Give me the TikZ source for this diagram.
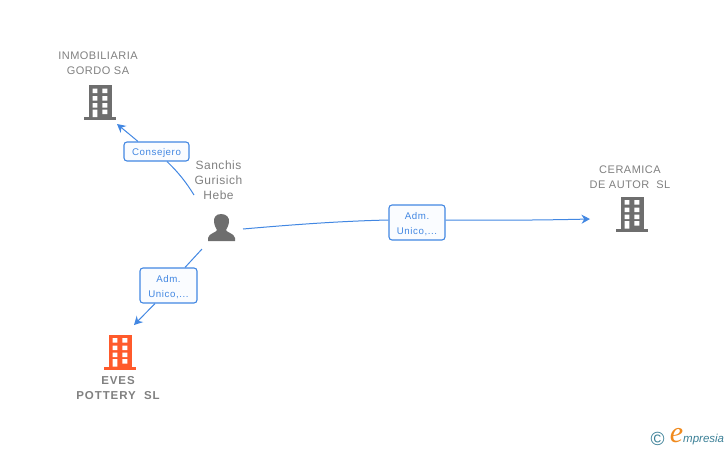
\documentclass[tikz,border=0pt]{standalone}
\usepackage{fontspec}
\setmainfont{Liberation Sans}
\newfontfamily\logofont{Liberation Serif}
\newfontfamily\spacedfont[LetterSpace=4.5]{Liberation Sans}
\newfontfamily\rolefont[LetterSpace=6]{Liberation Sans}
\newfontfamily\boldspaced[LetterSpace=8,BoldFont={Liberation Sans Bold}]{Liberation Sans Bold}
\newfontfamily\logosans{Liberation Sans}
\usetikzlibrary{arrows.meta}
\definecolor{linkblue}{HTML}{4287E2}
\definecolor{labelgray}{HTML}{808080}
\definecolor{icongray}{HTML}{6E6E6E}
\definecolor{iconorange}{HTML}{FF5A2B}
\definecolor{logoteal}{HTML}{3A7F96}
\definecolor{logoorange}{HTML}{F08A1E}
\definecolor{rolefill}{HTML}{FAFCFF}
\newcommand{\rl}[1]{\raisebox{-1.8pt}[\height][\depth]{#1}}
\tikzset{
  x=1pt,y=-1pt,
  txt/.style={text=labelgray,font=\spacedfont\fontsize{11}{15}\selectfont,align=center,inner sep=0pt},
  person name/.style={text=labelgray,font=\spacedfont\fontsize{12}{15}\selectfont,align=center,inner sep=0pt},
  bold txt/.style={text=labelgray,font=\boldspaced\fontsize{11.5}{15}\selectfont,align=center,inner sep=0pt},
  role/.style={draw=linkblue,line width=1.1pt,rounded corners=3pt,fill=rolefill,text=linkblue,
    font=\rolefont\fontsize{9.7}{15}\selectfont,align=center,inner sep=0pt},
  link/.style={draw=linkblue,line width=1pt},
  linkarrow/.style={link,-{Stealth[length=8.5pt,width=9pt]}},
  anchorbox/.style={minimum width=32pt,minimum height=35pt,inner sep=0pt},
  pics/tower/.style={code={
    \fill[#1] (-11,-17.5) rectangle (11.5,14.5);
    \fill[#1] (-16,14.5) rectangle (16,17.5);
    \fill[white] (-7.3,-14) rectangle (-2.7,-9.5) (2.3,-14) rectangle (7.3,-9.5)
      (-7.3,-6.5) rectangle (-2.7,-2) (2.3,-6.5) rectangle (7.3,-2)
      (-7.3,0.5) rectangle (-2.7,5) (2.3,0.5) rectangle (7.3,5)
      (-7.3,7) rectangle (-2.7,14.5) (2.3,7) rectangle (7.3,11.5);
  }},
}
\begin{document}
\begin{tikzpicture}
\useasboundingbox (0,0) rectangle (728,450);
% icons
\pic at (100,102.5) {tower=icongray};
\pic at (632,214) {tower=icongray};
\pic at (120,352) {tower=iconorange};
\node[anchorbox] (inmo) at (100,102.5) {};
\node[anchorbox] (cera) at (632,214) {};
\node[anchorbox] (eves) at (120,352) {};
% person
\fill[icongray] (221,214) .. controls (215.5,214) and (213.5,218) .. (214,222)
  .. controls (214.5,226) and (216,228) .. (217,230)
  .. controls (216,233) and (209,233) .. (208,238) -- (208,241) -- (235,241) -- (235,238)
  .. controls (234,233) and (227,233) .. (226,230)
  .. controls (227,228) and (228.5,226) .. (229,222)
  .. controls (229.5,218) and (227,214) .. (221,214) -- cycle;
\node[minimum width=28pt,minimum height=28pt,inner sep=0pt] (hebe) at (221,227) {};
% texts
\node[txt] (inmotxt) at (98,63.5) {INMOBILIARIA\\GORDO SA};
\node[txt] (ceratxt) at (630,177) {CERAMICA\\DE AUTOR\ \ SL};
\node[bold txt] (evestxt) at (118,388.5) {EVES\\POTTERY\ \ SL};
\node[person name] (hebetxt) at (218.5,180) {Sanchis\\Gurisich\\Hebe};
% role boxes
\node[role,minimum width=65pt,minimum height=19pt] (r1) at (156.5,151.5) {\rl{Consejero}};
\node[role,minimum width=57pt,minimum height=35pt] (r2) at (168.5,285.5) {\rl{Adm.}\\\rl{Unico,...}};
\node[role,minimum width=56pt,minimum height=35pt] (r3) at (417,222.5) {\rl{Adm.}\\\rl{Unico,...}};
% connector free ends
\coordinate (h1) at (194,195);
\coordinate (h2) at (202,249);
\coordinate (h3) at (243,229);
\coordinate (a1) at (117,124);
\coordinate (a2) at (134,325);
\coordinate (a3) at (590,219);
% connectors
\draw[link] (h1) .. controls (186,182) and (178,172) .. (r1.south -| 167,161);
\draw[linkarrow] (r1.north -| 138,142) -- (a1);
\draw[link] (h2) -- (r2.north -| 185,268);
\draw[linkarrow] (r2.south -| 155,303) -- (a2);
\draw[link] (h3) .. controls (300,224) and (345,221) .. (r3.west |- 0,220);
\draw[linkarrow] (r3.east |- 0,220) .. controls (500,220.5) and (550,220) .. (a3);
% logo
\node[text=logoteal,font=\fontsize{19}{19}\selectfont,inner sep=0pt] (copy) at (657.5,439) {©};
\node[text=logoorange,font=\logofont\itshape\fontsize{30}{30}\selectfont,inner sep=0pt] (elogo) at (676.5,436) {e};
\node[text=logoteal,font=\logosans\itshape\fontsize{11.5}{14}\selectfont,inner sep=0pt,anchor=west] (brand) at (683,440) {mpresia};
\end{tikzpicture}
\end{document}
